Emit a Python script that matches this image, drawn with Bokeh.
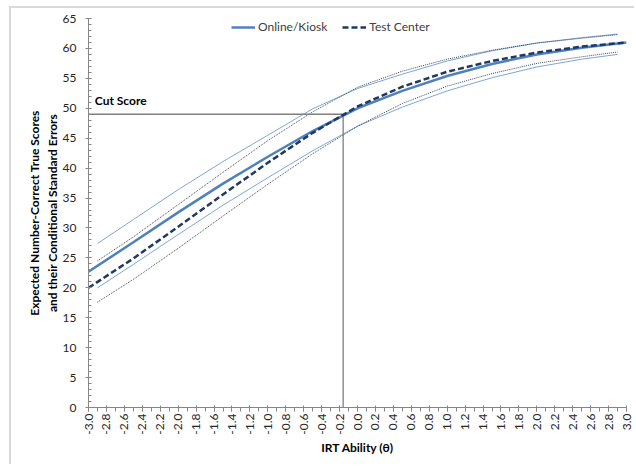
from bokeh.plotting import figure
from bokeh.models import FixedTicker, Legend, LegendItem, Range1d
from bokeh.embed import file_html
from bokeh.resources import INLINE
from bokeh.core.properties import value

# ---- data ----
theta = [-3.0, -2.5, -2.0, -1.5, -1.0, -0.5, 0.0, 0.5, 1.0, 1.5, 2.0, 2.5, 3.0]
online_mean = [22.7, 27.6, 32.6, 37.4, 41.9, 46.2, 50.0, 52.9, 55.4, 57.4, 59.0, 60.1, 61.0]
center_mean = [20.0, 24.9, 30.2, 35.6, 40.9, 45.9, 50.3, 53.6, 56.1, 57.9, 59.3, 60.3, 61.0]

theta_band = [-2.9, -2.5, -2.0, -1.5, -1.0, -0.5, 0.0, 0.5, 1.0, 1.5, 2.0, 2.5, 2.9]
online_upper = [27.4, 31.4, 36.4, 41.1, 45.5, 49.9, 53.3, 55.7, 57.9, 59.6, 60.9, 61.8, 62.4]
online_lower = [20.0, 23.9, 28.9, 33.8, 38.4, 42.9, 47.0, 50.2, 52.9, 55.1, 56.9, 58.2, 59.0]
center_upper = [24.5, 28.5, 33.9, 39.3, 44.6, 49.4, 53.5, 56.2, 58.2, 59.7, 60.9, 61.7, 62.3]
center_lower = [17.6, 21.4, 26.6, 32.0, 37.3, 42.4, 47.0, 50.8, 53.7, 55.8, 57.5, 58.6, 59.4]

cut_theta = -0.16
cut_score = 49
cut_label = "Cut Score"

x_ticks = [round(-3.0 + 0.2 * i, 1) for i in range(31)]
x_minor = [round(-3.0 + 0.1 * i, 1) for i in range(61)]
y_ticks = list(range(0, 66, 5))
y_minor = list(range(0, 66, 1))

x_title = "IRT Ability (θ)"
y_title = "Expected Number-Correct True Scores\nand their Conditional Standard Errors"

FONT = "Lato"
BLUE = "#4f81bd"
BLUE_LIGHT = "#7ea6d8"
NAVY = "#1f3864"

p = figure(width=625, height=458, output_backend="svg", toolbar_location=None,
           x_range=Range1d(-3.0, 3.0), y_range=Range1d(0, 65),
           min_border_left=77, min_border_right=10, min_border_top=10, min_border_bottom=59)
p.outline_line_color = None
p.xgrid.visible = False
p.ygrid.visible = False
p.styles = {"border-top": "2px solid #d9d9d9", "border-left": "2px solid #d9d9d9",
            "margin-left": "9px", "margin-top": "6px"}

# bands
p.line(theta_band, online_upper, line_color=BLUE_LIGHT, line_width=1)
p.line(theta_band, online_lower, line_color=BLUE_LIGHT, line_width=1)
p.line(theta_band, center_upper, line_color="#404a5a", line_width=1, line_dash="1 1")
p.line(theta_band, center_lower, line_color="#404a5a", line_width=1, line_dash="1 1")

# cut lines
p.line([theta[0], cut_theta], [cut_score, cut_score], line_color="#7f7f7f", line_width=1.3)
p.line([cut_theta, cut_theta], [y_ticks[0], cut_score], line_color="#7f7f7f", line_width=1.3)
p.text(x=[theta[0] + 0.07], y=[cut_score], text=[cut_label], y_offset=-6,
       text_font=value(FONT), text_font_style="bold", text_font_size="12px",
       text_baseline="bottom", text_align="left", text_color="#000000")

# means
r_on = p.line(theta, online_mean, line_color=BLUE, line_width=2.5)
r_tc = p.line(theta, center_mean, line_color=NAVY, line_width=2.5, line_dash="6 3")

legend = Legend(items=[LegendItem(label="Online/Kiosk", renderers=[r_on]),
                       LegendItem(label="Test Center", renderers=[r_tc])],
                orientation="horizontal", location=(143, 373))
legend.border_line_color = None
legend.background_fill_alpha = 0
legend.label_text_font = FONT
legend.label_text_font_size = "12px"
legend.label_text_color = "#404040"
legend.glyph_width = 24
legend.glyph_height = 14
legend.label_height = 14
legend.label_standoff = 3
legend.spacing = 15
legend.padding = 0
legend.margin = 0
p.add_layout(legend)

for ax in (p.xaxis[0], p.yaxis[0]):
    ax.axis_line_color = "#868686"
    ax.major_tick_line_color = "#868686"
    ax.minor_tick_line_color = "#868686"
    ax.major_label_text_font = FONT
    ax.major_label_text_font_size = "12px"
    ax.major_label_text_color = "#262626"
    ax.axis_label_text_font = FONT
    ax.axis_label_text_font_size = "12px"
    ax.axis_label_text_font_style = "bold"
    ax.axis_label_text_color = "#000000"

p.xaxis.ticker = FixedTicker(ticks=x_ticks, minor_ticks=x_minor)
p.xaxis.major_label_overrides = {t: f"{t:.1f}" for t in x_ticks}
p.xaxis.major_label_orientation = 1.5708
p.xaxis.major_tick_in = 2
p.xaxis.major_tick_out = 4
p.xaxis.minor_tick_in = 0
p.xaxis.minor_tick_out = 4
p.xaxis.major_label_standoff = 2
p.xaxis.axis_label = x_title
p.xaxis.axis_label_standoff = 2

p.yaxis.ticker = FixedTicker(ticks=y_ticks, minor_ticks=y_minor)
p.yaxis.major_tick_in = 3
p.yaxis.major_tick_out = 3
p.yaxis.minor_tick_in = 3
p.yaxis.minor_tick_out = 0
p.yaxis.major_label_standoff = 9
p.yaxis.axis_label = y_title
p.yaxis.axis_label_standoff = 0

open("out.html", "w").write(file_html(p, INLINE))
